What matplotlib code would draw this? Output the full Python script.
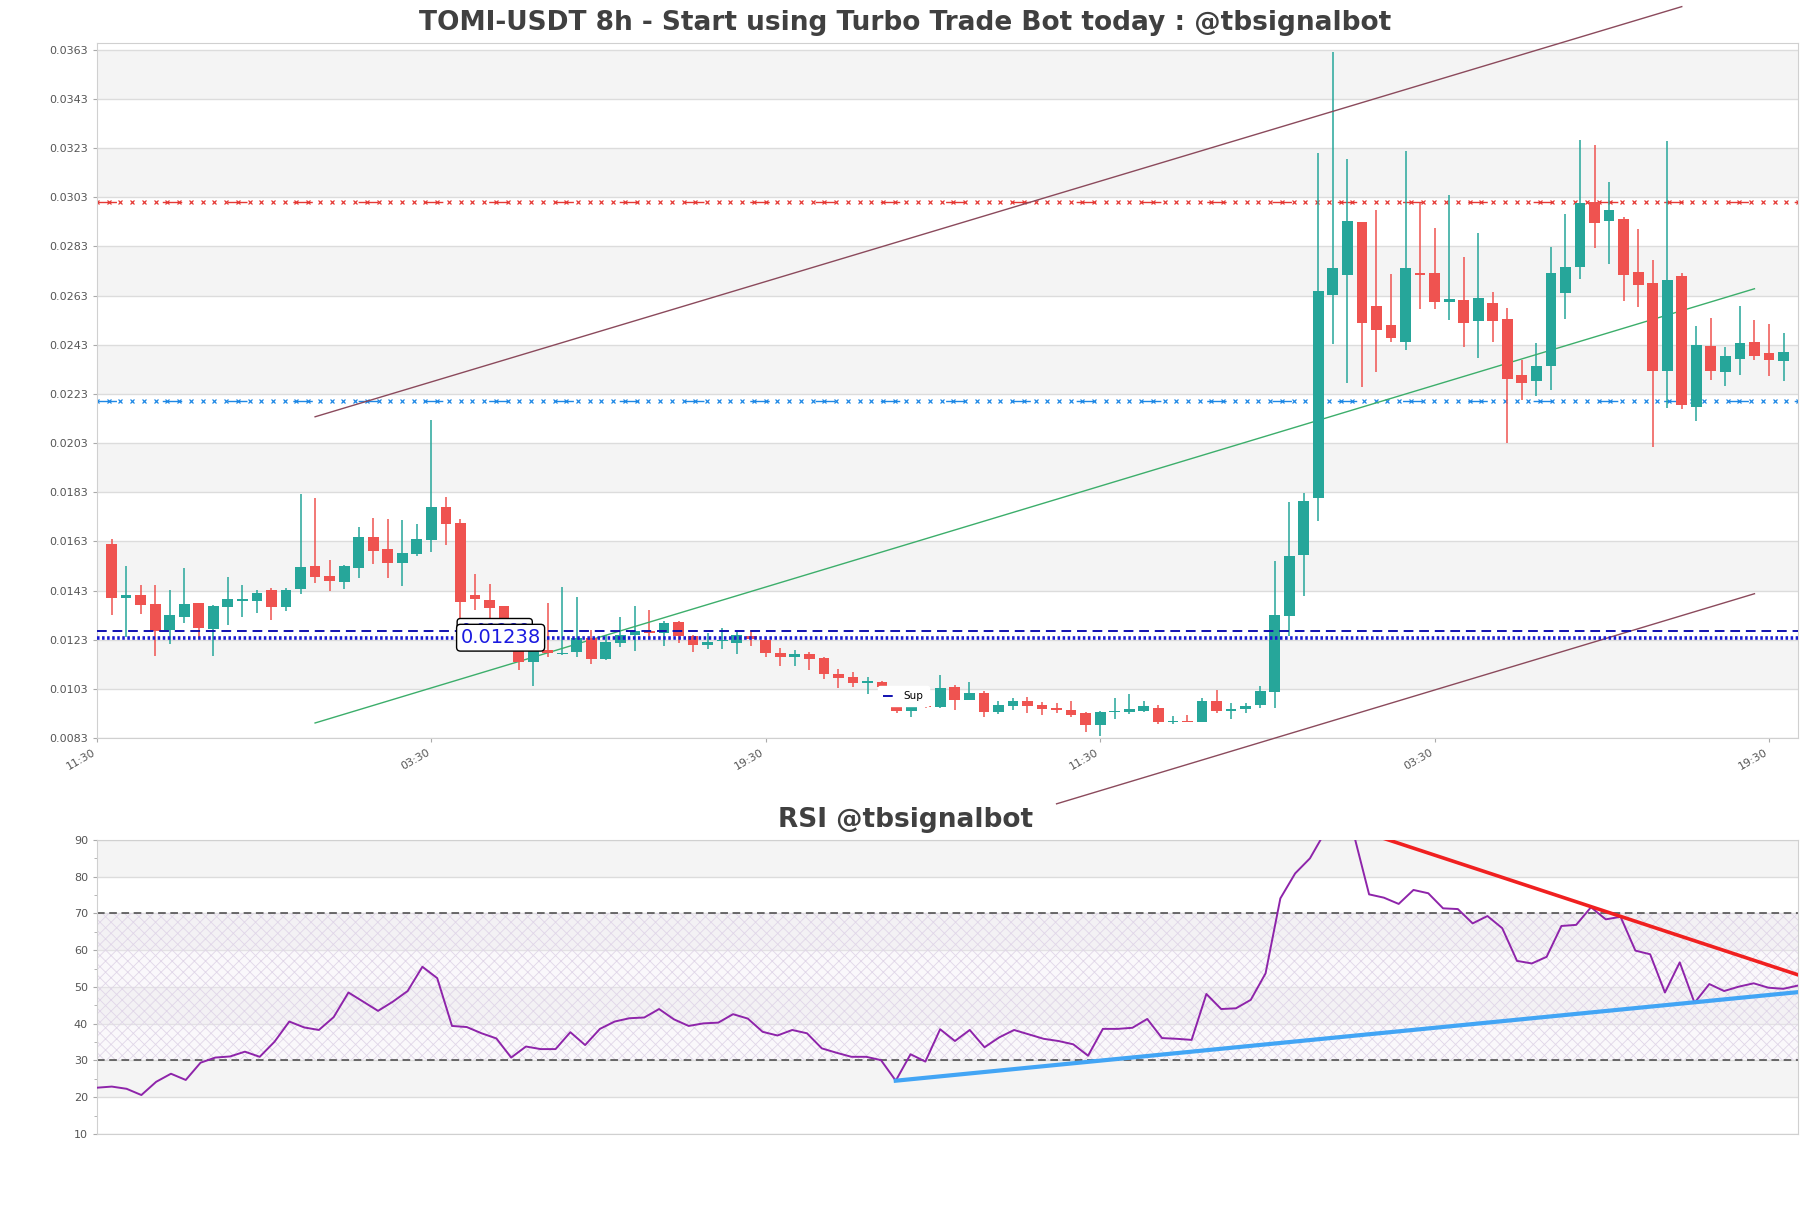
import numpy as np
import matplotlib.pyplot as plt

plt.rcParams['hatch.linewidth'] = 0.6

# 8h candles, index 0 = 19:30
opens = [0.0162, 0.0140, 0.01412, 0.01377, 0.01271, 0.01322, 0.01379, 0.01274, 0.01364, 0.01389,
         0.01389, 0.01432, 0.01364, 0.01436, 0.0153, 0.01489, 0.01465, 0.01522, 0.01648, 0.01599,
         0.01542, 0.01579, 0.01636, 0.0177, 0.01706, 0.0141, 0.01392, 0.01365, 0.0131, 0.01141,
         0.01189, 0.01171, 0.01178, 0.01237, 0.01153, 0.01218, 0.0125, 0.01267, 0.01259, 0.013,
         0.01246, 0.0121, 0.01224, 0.01218, 0.01246, 0.01229, 0.01176, 0.01159, 0.01171, 0.01156,
         0.0109, 0.01079, 0.01053, 0.01058, 0.01035, 0.0094, 0.00957, 0.00958, 0.01038, 0.00983,
         0.01014, 0.00937, 0.00962, 0.00981, 0.00964, 0.00952, 0.00944, 0.00932, 0.00883, 0.00935,
         0.00937, 0.0094, 0.00951, 0.00895, 0.009, 0.00894, 0.00982, 0.00941, 0.00946, 0.00964,
         0.01018, 0.01326, 0.01576, 0.01805, 0.02631, 0.02712, 0.02929, 0.02586, 0.02511, 0.02443,
         0.02722, 0.02722, 0.02606, 0.02612, 0.02525, 0.026, 0.02535, 0.02307, 0.02281, 0.02342,
         0.0264, 0.02745, 0.03013, 0.02933, 0.02943, 0.02726, 0.02681, 0.02323, 0.02711, 0.02175,
         0.02426, 0.02321, 0.02374, 0.02441, 0.02396, 0.02365]
highs = [0.0164, 0.0153, 0.01453, 0.01453, 0.01432, 0.01522, 0.01379, 0.01371, 0.01485, 0.01453,
         0.01432, 0.01441, 0.01441, 0.01823, 0.01807, 0.01554, 0.01533, 0.01689, 0.01725, 0.01721,
         0.01717, 0.01701, 0.02124, 0.01811, 0.0172, 0.01498, 0.01457, 0.01365, 0.0131, 0.01216,
         0.01381, 0.01446, 0.01403, 0.0127, 0.0125, 0.01322, 0.01368, 0.01351, 0.01308, 0.01306,
         0.0125, 0.01257, 0.01277, 0.01263, 0.0127, 0.01236, 0.01195, 0.01189, 0.01178, 0.0116,
         0.0111, 0.01099, 0.01077, 0.01063, 0.0104, 0.0096, 0.0097, 0.01087, 0.01046, 0.01058,
         0.01023, 0.00981, 0.00992, 0.00996, 0.00977, 0.00971, 0.00979, 0.00937, 0.0094, 0.00991,
         0.0101, 0.00982, 0.00966, 0.00918, 0.00924, 0.00993, 0.01027, 0.00973, 0.00973, 0.0104,
         0.01549, 0.01791, 0.01827, 0.03212, 0.03623, 0.03187, 0.0293, 0.02978, 0.02719, 0.0322,
         0.03007, 0.02906, 0.0304, 0.02788, 0.02886, 0.02644, 0.02579, 0.02369, 0.02437, 0.02828,
         0.02962, 0.03264, 0.03244, 0.03092, 0.02951, 0.02902, 0.02776, 0.03259, 0.02722, 0.02507,
         0.0254, 0.02422, 0.02589, 0.02532, 0.02513, 0.02477]
lows = [0.01332, 0.01241, 0.01336, 0.01164, 0.01211, 0.01299, 0.01238, 0.01164, 0.01291, 0.01324,
        0.0134, 0.01312, 0.01348, 0.01417, 0.01461, 0.01428, 0.01436, 0.01481, 0.01538, 0.01481,
        0.01449, 0.01571, 0.01587, 0.01616, 0.01319, 0.01351, 0.01318, 0.0127, 0.01107, 0.01042,
        0.01159, 0.01167, 0.01161, 0.01133, 0.01148, 0.01202, 0.01182, 0.0124, 0.01205, 0.01216,
        0.0118, 0.01194, 0.01191, 0.01172, 0.01205, 0.01159, 0.01121, 0.01121, 0.01107, 0.01071,
        0.01035, 0.01039, 0.01007, 0.01029, 0.00933, 0.00915, 0.0095, 0.0095, 0.00942, 0.00983,
        0.00917, 0.00928, 0.00942, 0.00931, 0.00925, 0.00931, 0.00915, 0.00856, 0.00839, 0.00909,
        0.00926, 0.00937, 0.00886, 0.00888, 0.00894, 0.00894, 0.00931, 0.00909, 0.00931, 0.00952,
        0.00952, 0.01246, 0.01409, 0.01714, 0.02435, 0.02274, 0.02258, 0.02321, 0.02441, 0.02407,
        0.02575, 0.02575, 0.02529, 0.02419, 0.02376, 0.02443, 0.0203, 0.02206, 0.0222, 0.02247,
        0.02535, 0.02697, 0.02824, 0.02758, 0.0261, 0.02585, 0.02014, 0.02172, 0.02168, 0.02118,
        0.02285, 0.02261, 0.02305, 0.02369, 0.02301, 0.02281]
closes = [0.0140, 0.01412, 0.01371, 0.01266, 0.01331, 0.01377, 0.01278, 0.01367, 0.01396, 0.01396,
          0.0142, 0.01364, 0.01432, 0.01526, 0.01485, 0.01469, 0.01531, 0.01648, 0.01591, 0.01542,
          0.01583, 0.0164, 0.0177, 0.01701, 0.01384, 0.01397, 0.01357, 0.0131, 0.01141, 0.01189,
          0.01175, 0.01175, 0.01237, 0.01153, 0.01221, 0.01248, 0.01267, 0.01259, 0.01298, 0.01243,
          0.0121, 0.01221, 0.01228, 0.01248, 0.01232, 0.01174, 0.01159, 0.01172, 0.01152, 0.01092,
          0.01076, 0.01055, 0.0106, 0.01037, 0.0094, 0.00957, 0.00955, 0.01034, 0.00984, 0.01014,
          0.00937, 0.00963, 0.00981, 0.00962, 0.00946, 0.00943, 0.00925, 0.00883, 0.00936, 0.0094,
          0.00946, 0.00959, 0.00897, 0.009, 0.00894, 0.00982, 0.0094, 0.00946, 0.00959, 0.0102,
          0.01331, 0.01571, 0.01794, 0.0265, 0.02743, 0.02935, 0.02517, 0.02492, 0.02456, 0.02743,
          0.02712, 0.02606, 0.02616, 0.02517, 0.02621, 0.02525, 0.02289, 0.02274, 0.02344, 0.02722,
          0.02747, 0.03005, 0.02925, 0.02978, 0.02712, 0.02675, 0.02325, 0.02694, 0.02183, 0.0243,
          0.02325, 0.02384, 0.02437, 0.02386, 0.02369, 0.024]

rsi = [22.6, 22.9, 22.3, 20.6, 24.2, 26.4, 24.7, 29.4, 30.8, 31.1, 32.4, 31.0, 35.1, 40.6, 39.0,
       38.3, 41.8, 48.5, 46.0, 43.5, 46.0, 48.9, 55.5, 52.4, 39.4, 39.1, 37.4, 36.0, 30.8, 33.8,
       33.1, 33.1, 37.7, 34.2, 38.6, 40.6, 41.5, 41.7, 44.0, 41.2, 39.4, 40.1, 40.3, 42.6, 41.4,
       37.8, 36.8, 38.3, 37.4, 33.3, 32.1, 31.0, 31.0, 30.1, 24.5, 31.7, 29.7, 38.5, 35.3, 38.3,
       33.6, 36.3, 38.3, 37.1, 35.9, 35.3, 34.4, 31.3, 38.6, 38.6, 38.9, 41.3, 36.1, 35.9, 35.6,
       48.1, 44.0, 44.2, 46.5, 53.7, 74.1, 80.9, 85.0, 92.0, 94.4, 91.0, 75.2, 74.3, 72.6, 76.4,
       75.5, 71.4, 71.2, 67.3, 69.3, 66.0, 57.1, 56.4, 58.2, 66.6, 66.9, 71.7, 68.4, 69.1, 59.9,
       58.9, 48.5, 56.7, 45.7, 50.8, 48.9, 50.1, 51.0, 49.8, 49.5, 50.4]

tick_pos = [-1, 22, 45, 68, 91, 114]
tick_labels = ['11:30', '03:30', '19:30', '11:30', '03:30', '19:30']

resistance = 0.0301
support = 0.0220
sup_dashed = 0.01266
sup_dotted = 0.01238

# channel lines (x index, price)
chan_upper = ([14, 108], [0.02137, 0.03806])
chan_mid = ([14, 113], [0.00891, 0.02658])
chan_lower = ([65, 113], [0.00562, 0.01417])

# rsi trend lines
rsi_down = ([84, 115], [94.4, 53.3])
rsi_up = ([54, 115], [24.5, 48.6])

GREEN = '#26a69a'
RED = '#ef5350'
BAND = '#f4f4f4'
GRID = '#dcdcdc'
TXT = '#555555'

fig = plt.figure(figsize=(18.11, 12.08), dpi=100)
ax = fig.add_axes([0.05356, 0.3891, 0.9393, 0.5753])
ax2 = fig.add_axes([0.05356, 0.06126, 0.9393, 0.2434])

n = len(closes)
x = np.arange(n)
ymin, ymax = 0.0083, 0.03658
yt = np.arange(ymin, 0.0364, 0.002)

# alternating bands
for k in range(len(yt) - 1):
    if k % 2 == 1:
        ax.axhspan(yt[k], yt[k + 1], color=BAND, zorder=0, lw=0)
for t in yt:
    ax.axhline(t, color=GRID, lw=1, zorder=0.5)

# candles
o = np.array(opens); c = np.array(closes)
h = np.array(highs); l = np.array(lows)
up = c >= o
cols = np.where(up, GREEN, RED)
ax.vlines(x, l, h, colors=cols, lw=1.1, zorder=3)
body = np.maximum(np.abs(c - o), 0.00004)
ax.bar(x, body, bottom=np.minimum(o, c), width=0.74, color=cols, zorder=4, lw=0)

# levels drawn as dashed lines with x markers
lx = np.linspace(-1, 116, 146)
for lvl, col in [(resistance, '#e53935'), (support, '#1e88e5')]:
    ax.plot(lx, [lvl] * len(lx), color=col, ls='none', marker='x', ms=3.5, mew=0.9, zorder=2)
    ax.axhline(lvl, color=col, ls=(0, (14, 33)), lw=1.0, zorder=2)

ax.axhline(sup_dashed, color='#1010b0', ls=(0, (5, 3)), lw=1.4, zorder=5, label='Sup')
ax.axhline(sup_dotted, color='#1a1ad0', ls=(0, (0.7, 0.7)), lw=2.6, zorder=5)

ax.text(24, sup_dashed, f'{sup_dashed:.5f}', color='#1a1ae0', fontsize=12, ha='left', va='center', zorder=7,
        bbox=dict(boxstyle='round,pad=0.2', fc='white', ec='black', lw=1))
ax.text(24, sup_dotted, f'{sup_dotted:.5f}', color='#1a1ae0', fontsize=14, ha='left', va='center', zorder=8,
        bbox=dict(boxstyle='round,pad=0.2', fc='white', ec='black', lw=1))

# channel
ax.plot(*chan_upper, color='#8b4a5c', lw=1, clip_on=False, zorder=3)
ax.plot(*chan_lower, color='#8b4a5c', lw=1, clip_on=False, zorder=3)
ax.plot(*chan_mid, color='#3cae6b', lw=1, clip_on=False, zorder=3)

leg = ax.legend(loc='center', bbox_to_anchor=(0.474, 0.06), fontsize=7.5, frameon=True,
                handlelength=1.2, borderpad=0.5)
leg.get_frame().set_edgecolor('white')
leg.get_frame().set_alpha(1)

ax.set_xlim(-1, 116)
ax.set_ylim(ymin, ymax)
ax.set_yticks(yt)
ax.set_yticklabels([f'{t:.4f}' for t in yt])
ax.set_xticks(tick_pos)
ax.set_xticklabels(tick_labels, rotation=30, ha='right')

# RSI panel
rx = np.arange(len(rsi))
for lo_, hi_ in [(20, 30), (40, 50), (60, 70), (80, 90)]:
    ax2.axhspan(lo_, hi_, color=BAND, zorder=0, lw=0)
for t in range(10, 91, 10):
    ax2.axhline(t, color=GRID, lw=1, zorder=0.5)
ax2.fill_between([0, len(rsi) - 1], 30, 70, facecolor=(0.95, 0.93, 0.96, 0.35), hatch='xxx',
                 edgecolor=(0.88, 0.84, 0.91), lw=0, zorder=1)
ax2.axhline(30, color='#444444', ls=(0, (5, 3)), lw=1.1, zorder=2)
ax2.axhline(70, color='#444444', ls=(0, (5, 3)), lw=1.1, zorder=2)
ax2.plot(rx, rsi, color='#8e24aa', lw=1.4, zorder=3)
ax2.plot(*rsi_down, color='#f02020', lw=2.6, zorder=4)
ax2.plot(*rsi_up, color='#42a5f5', lw=3, zorder=4)
ax2.set_xlim(0, len(rsi) - 1)
ax2.set_ylim(10, 90)
ax2.set_yticks(range(10, 91, 10))
ax2.set_yticks(range(15, 90, 10), minor=True)
ax2.set_xticks([])

for a in (ax, ax2):
    for s in a.spines.values():
        s.set_color('#d0d0d0')
    a.tick_params(axis='both', colors='#aaaaaa', labelcolor=TXT, labelsize=8, length=3)
    a.tick_params(axis='y', which='minor', colors='#aaaaaa', length=2)

fig.text(0.5, 1 - 23 / 1208, 'TOMI-USDT 8h - Start using Turbo Trade Bot today : @tbsignalbot',
         ha='center', va='center', fontsize=19, fontweight='bold', color='#404040')
fig.text(0.5, 1 - 820 / 1208, 'RSI @tbsignalbot', ha='center', va='center', fontsize=19,
         fontweight='bold', color='#404040')

fig.savefig('out.png', dpi=100)
